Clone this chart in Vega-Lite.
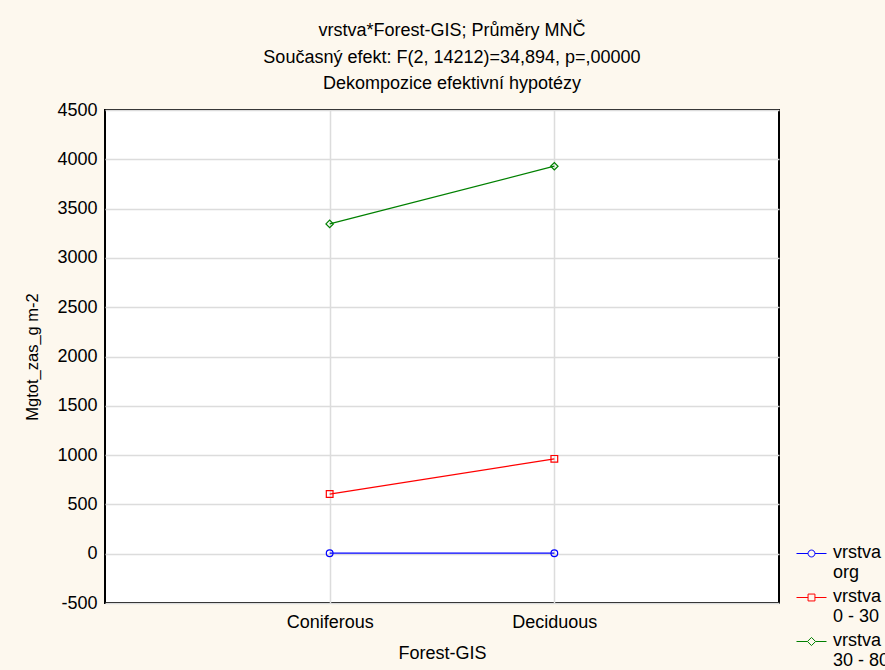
{
  "$schema": "https://vega.github.io/schema/vega-lite/v6.json",
  "width": 674,
  "height": 493,
  "autosize": {"type": "none"},
  "padding": {"left": 105, "top": 110, "right": 106, "bottom": 67},
  "background": "#fdf8ee",
  "title": {
    "text": ["vrstva*Forest-GIS; Průměry MNČ", "Současný efekt: F(2, 14212)=34,894, p=,00000", "Dekompozice efektivní hypotézy"],
    "font": "Liberation Sans",
    "fontSize": 18,
    "fontWeight": "normal",
    "color": "#000000",
    "lineHeight": 26.5,
    "offset": 8,
    "dx": 10
  },
  "config": {
    "font": "Liberation Sans",
    "view": {"fill": "#ffffff", "stroke": "#000000", "strokeWidth": 2},
    "axis": {
      "labelFont": "Liberation Sans",
      "labelFontSize": 18,
      "labelColor": "#000000",
      "titleFont": "Liberation Sans",
      "titleFontWeight": "normal",
      "titleColor": "#000000",
      "ticks": false,
      "domain": false,
      "gridColor": "#dcdcdc",
      "gridWidth": 1.5
    }
  },
  "data": {
    "values": [
      {"forest": "Coniferous", "vrstva": "org", "value": 5},
      {"forest": "Deciduous", "vrstva": "org", "value": 5},
      {"forest": "Coniferous", "vrstva": "0 - 30", "value": 605},
      {"forest": "Deciduous", "vrstva": "0 - 30", "value": 962},
      {"forest": "Coniferous", "vrstva": "30 - 80", "value": 3345},
      {"forest": "Deciduous", "vrstva": "30 - 80", "value": 3930}
    ]
  },
  "encoding": {
    "x": {
      "field": "forest",
      "type": "nominal",
      "scale": {"type": "point", "padding": 1},
      "axis": {"title": "Forest-GIS", "titleFontSize": 18, "labelAngle": 0, "labelPadding": 10, "titlePadding": 13, "grid": true}
    },
    "y": {
      "field": "value",
      "type": "quantitative",
      "scale": {"domain": [-500, 4500], "nice": false},
      "axis": {"title": "Mgtot_zas_g m-2", "titleFontSize": 16.5, "values": [-500, 0, 500, 1000, 1500, 2000, 2500, 3000, 3500, 4000, 4500], "labelExpr": "'' + datum.value", "labelPadding": 8, "titlePadding": 16}
    },
    "color": {
      "field": "vrstva",
      "type": "nominal",
      "scale": {"domain": ["org", "0 - 30", "30 - 80"], "range": ["#0000ff", "#ff0000", "#008000"]},
      "legend": {
        "title": null,
        "orient": "none",
        "legendX": 691,
        "legendY": 428,
        "padding": 0,
        "symbolSize": 900,
        "symbolStrokeWidth": 1,
        "symbolFillColor": "transparent",
        "symbolOpacity": 1,
        "labelFont": "Liberation Sans",
        "labelFontSize": 18,
        "labelColor": "#000000",
        "labelOffset": 6,
        "labelLimit": 200,
        "rowPadding": 0,
        "labelBaseline": "top",
        "labelExpr": "['vrstva', datum.label]",
        "encode": {
          "labels": {"update": {"dy": {"value": -10}, "lineHeight": {"value": 20}}}
        }
      }
    }
  },
  "layer": [
    {"mark": {"type": "line", "strokeWidth": 1.2}, "encoding": {"detail": {"field": "vrstva"}}},
    {
      "mark": {"type": "point", "filled": false, "size": 0, "opacity": 1},
      "encoding": {
        "shape": {
          "field": "vrstva",
          "type": "nominal",
          "scale": {"domain": ["org", "0 - 30", "30 - 80"], "range": [
            "M-1,0L-0.23,0M0.23,0L1,0M0.23,0A0.23,0.23,0,1,1,-0.23,0A0.23,0.23,0,1,1,0.23,0",
            "M-1,0L-0.23,0M0.23,0L1,0M-0.23,-0.23L0.23,-0.23L0.23,0.23L-0.23,0.23Z",
            "M-1,0L-0.27,0M0.27,0L1,0M-0.27,0L0,-0.27L0.27,0L0,0.27Z"
          ]},
          "legend": null
        }
      }
    },
    {
      "transform": [{"filter": "datum.vrstva === 'org'"}],
      "mark": {"type": "point", "shape": "circle", "filled": false, "size": 45, "strokeWidth": 1.2, "opacity": 1}
    },
    {
      "transform": [{"filter": "datum.vrstva === '0 - 30'"}],
      "mark": {"type": "point", "shape": "square", "filled": false, "size": 45, "strokeWidth": 1.2, "opacity": 1}
    },
    {
      "transform": [{"filter": "datum.vrstva === '30 - 80'"}],
      "mark": {"type": "point", "shape": "diamond", "filled": false, "size": 55, "strokeWidth": 1.2, "opacity": 1}
    }
  ]
}
